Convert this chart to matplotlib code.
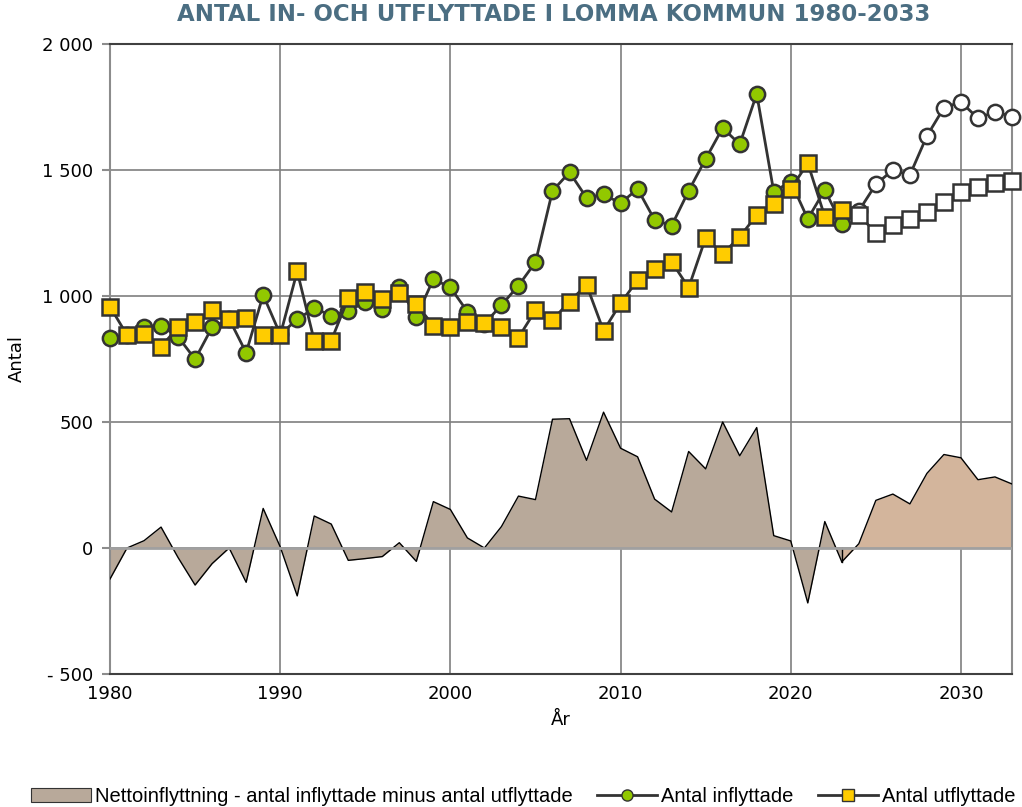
import numpy as np
import matplotlib.pyplot as plt
from matplotlib.patches import Patch
from matplotlib.lines import Line2D


# data
years_hist = list( range( 1980, 2024 ) )
years_prog = list( range( 2023, 2034 ) )

in_hist = [ 832, 845, 878, 882, 838, 749, 876, 909, 775, 1004,
            848, 907, 952, 922, 942, 977, 950, 1037, 916, 1067,
            1034, 938, 890, 964, 1041, 1134, 1417, 1491, 1390, 1403,
            1368, 1425, 1302, 1279, 1417, 1544, 1667, 1602, 1802, 1414,
            1454, 1306, 1421, 1284 ]

out_hist = [ 958, 845, 849, 799, 876, 896, 944, 909, 911, 844,
             844, 1098, 823, 823, 991, 1017, 987, 1011, 968, 882,
             878, 898, 892, 878, 835, 943, 905, 978, 1044, 862,
             971, 1063, 1107, 1136, 1033, 1231, 1167, 1235, 1321, 1365,
             1425, 1527, 1315, 1341 ]

# prognos 2024-2033
in_prog = [ 1338, 1443, 1500, 1480, 1635, 1747, 1770, 1705, 1731, 1712 ]
out_prog = [ 1321, 1251, 1282, 1304, 1335, 1374, 1411, 1434, 1447, 1458 ]

net_hist = [ -123, 0, 29, 83, -38, -147, -62, 0, -136, 157,
             5, -190, 127, 95, -49, -42, -34, 21, -53, 184,
             153, 40, 0, 85, 206, 192, 511, 513, 348, 539,
             396, 362, 194, 143, 383, 314, 500, 366, 478, 49,
             28, -218, 105, -55 ]

net_prog = [ -55, 17, 189, 214, 175, 296, 371, 358, 271, 282, 254 ]

ytick_vals = [ -500, 0, 500, 1000, 1500, 2000 ]
ytick_labels = [ "- 500", "0", "500", "1 000", "1 500", "2 000" ]

title_text = "ANTAL IN- OCH UTFLYTTADE I LOMMA KOMMUN 1980-2033"

GREEN = "#92C800"
YELLOW = "#FFCC00"
NET_HIST = "#B8A99A"
NET_PROG = "#D3B59C"
LINE = "#333333"


def main():

    fig = plt.figure( figsize=( 10.22, 8.07 ), dpi=100 )

    ax = fig.add_axes( [ 110 / 1022, 1 - 674 / 807, 902 / 1022, 630 / 807 ] )

    # net area
    ax.fill_between( years_hist, net_hist, 0, color=NET_HIST, lw=0, zorder=2 )
    ax.fill_between( years_prog, net_prog, 0, color=NET_PROG, lw=0, zorder=2 )
    ax.plot( years_hist, net_hist, color="black", lw=1, zorder=3 )
    ax.plot( years_prog, net_prog, color="black", lw=1, zorder=3 )
    ax.plot( [ 2023, 2023 ], [ 0, net_prog[0] ], color="black", lw=1, zorder=3 )

    # in / out lines
    ms = 11
    yrs_p = list( range( 2024, 2034 ) )

    ax.plot( [ 2023, 2024 ], [ in_hist[-1], in_prog[0] ], color=LINE, lw=2, zorder=4 )
    ax.plot( [ 2023, 2024 ], [ out_hist[-1], out_prog[0] ], color=LINE, lw=2, zorder=4 )

    ax.plot( yrs_p, in_prog, color=LINE, lw=2, marker="o", ms=ms,
             mfc="white", mec=LINE, mew=1.8, zorder=5, clip_on=False )
    ax.plot( yrs_p, out_prog, color=LINE, lw=2, marker="s", ms=ms,
             mfc="white", mec=LINE, mew=1.8, zorder=5, clip_on=False )

    ax.plot( years_hist, in_hist, color=LINE, lw=2, marker="o", ms=ms,
             mfc=GREEN, mec=LINE, mew=1.8, zorder=6, clip_on=False )
    ax.plot( years_hist, out_hist, color=LINE, lw=2, marker="s", ms=ms,
             mfc=YELLOW, mec=LINE, mew=1.8, zorder=7, clip_on=False )

    # axes
    ax.set_xlim( 1980, 2033 )
    ax.set_ylim( -500, 2000 )
    ax.set_xticks( [ 1980, 1990, 2000, 2010, 2020, 2030 ] )
    ax.set_yticks( ytick_vals )
    ax.set_yticklabels( ytick_labels )

    ax.grid( True, color="#7f7f7f", lw=1.2, zorder=1 )
    ax.set_axisbelow( True )

    for side in [ "left", "right", "top", "bottom" ]:
        ax.spines[ side ].set_color( "#8c8c8c" )
        ax.spines[ side ].set_linewidth( 1.5 )
    ax.spines[ "top" ].set_color( "#404040" )
    ax.spines[ "bottom" ].set_color( "#404040" )

    ax.tick_params( axis="y", length=6, width=1.5, color="#8c8c8c",
                    labelsize=13, pad=6 )
    ax.tick_params( axis="x", length=0, labelsize=13, pad=8 )

    ax.axhline( 0, color="#a0a0a0", lw=2, zorder=3.5 )

    ax.set_xlabel( "År", fontsize=13, labelpad=6 )
    ax.set_ylabel( "Antal", fontsize=13, labelpad=12 )

    fig.text( 0.542, 0.982, title_text, ha="center", va="center",
              fontsize=16.5, fontweight="bold", color="#4B6E82" )

    # legend
    handles = [
        Patch( facecolor=NET_HIST, edgecolor="#333333", lw=0.8 ),
        Line2D( [], [], color=LINE, lw=2, marker="o", ms=8, mfc=GREEN, mec=LINE ),
        Line2D( [], [], color=LINE, lw=2, marker="s", ms=8, mfc=YELLOW, mec=LINE ),
    ]
    labels = [ "Nettoinflyttning - antal inflyttade minus antal utflyttade",
               "Antal inflyttade", "Antal utflyttade" ]

    fig.legend( handles, labels, loc="center", bbox_to_anchor=( 0.512, 0.013 ),
                ncol=3, frameon=False, handlelength=3.0,
                handletextpad=0.2, columnspacing=1.2,
                prop={ "family": "Liberation Sans", "size": 14.5 } )

    fig.savefig( "out.png", dpi=100 )


if __name__ == "__main__":
    main()
